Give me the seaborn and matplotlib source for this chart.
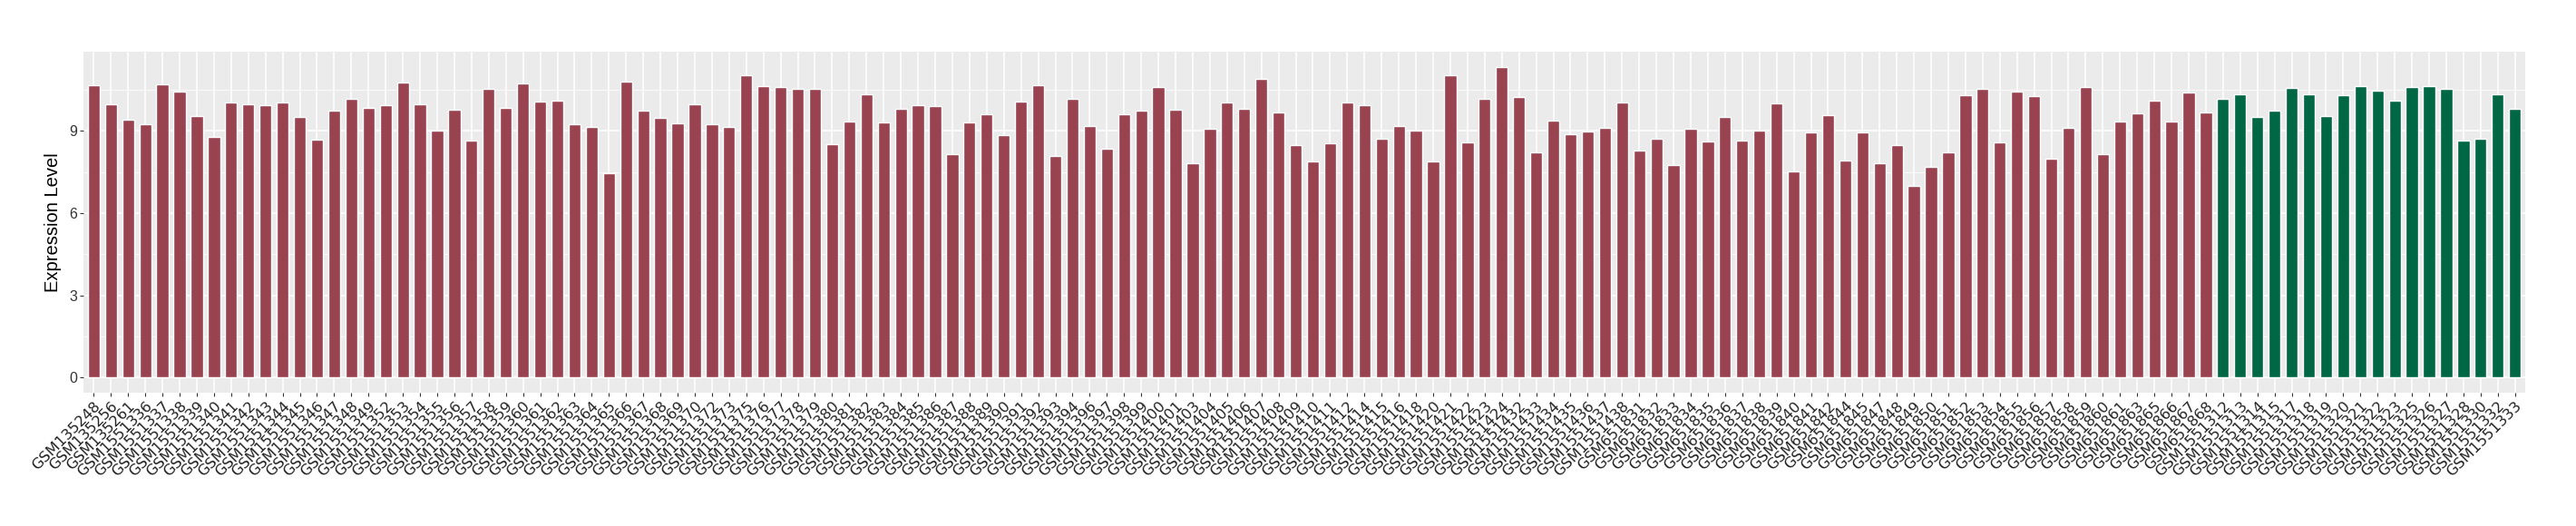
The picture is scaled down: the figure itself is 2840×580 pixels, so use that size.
import matplotlib
matplotlib.use("agg")
import matplotlib.pyplot as plt
from matplotlib.ticker import MultipleLocator
import seaborn as sns
import pandas as pd

# sample ids in plotting order
tumor_ids = (
    ["GSM135248", "GSM135256", "GSM135261"]
    + ["GSM15513%d" % n for n in [36, 37, 38, 39, 40, 41, 42, 43, 44, 45, 46, 47, 48, 49,
                                  52, 53, 54, 55, 56, 57, 58, 59, 60, 61, 62, 63, 64, 65,
                                  66, 67, 68, 69, 70, 72, 73, 75, 76, 77, 78, 79, 80, 81,
                                  82, 83, 84, 85, 86, 87, 88, 89, 90, 91, 92, 93, 94, 96,
                                  97, 98, 99]]
    + ["GSM15514%02d" % n for n in [0, 1, 3, 4, 5, 6, 7, 8, 9, 10, 11, 12, 14, 15, 16, 18,
                                    20, 21, 22, 23, 24, 32, 33, 34, 35, 36, 37, 38]]
    + ["GSM6518%d" % n for n in [31, 32, 33, 34, 35, 36, 37, 38, 39, 40, 41, 42, 44, 45,
                                 47, 48, 49, 50, 51, 52, 53, 54, 55, 56, 57, 58, 59, 60,
                                 61, 63, 65, 66, 67, 68]]
)
normal_ids = ["GSM15513%02d" % n for n in [12, 13, 14, 15, 17, 18, 19, 20, 21, 22, 23, 25,
                                            26, 27, 28, 30, 32, 33]]

tumor_values = [
    10.67, 9.97, 9.41, 9.24, 10.70, 10.43, 9.54, 8.78, 10.04, 9.97,
    9.94, 10.04, 9.51, 8.68, 9.74, 10.17, 9.84, 9.94, 10.76, 9.97,
    9.01, 9.77, 8.65, 10.53, 9.84, 10.73, 10.07, 10.10, 9.24, 9.14,
    7.46, 10.80, 9.74, 9.47, 9.28, 9.97, 9.24, 9.14, 11.03, 10.63,
    10.60, 10.53, 10.53, 8.51, 9.34, 10.33, 9.31, 9.81, 9.94, 9.90,
    8.15, 9.31, 9.61, 8.85, 10.07, 10.67, 8.08, 10.17, 9.18, 8.35,
    9.61, 9.74, 10.60, 9.77, 7.82, 9.08, 10.04, 9.81, 10.90, 9.67,
    8.48, 7.89, 8.55, 10.04, 9.94, 8.71, 9.18, 9.01, 7.89, 11.03,
    8.58, 10.17, 11.33, 10.24, 8.21, 9.37, 8.88, 8.98, 9.11, 10.04,
    8.28, 8.71, 7.75, 9.08, 8.61, 9.51, 8.65, 9.01, 10.00, 7.52,
    8.94, 9.57, 7.92, 8.94, 7.82, 8.48, 6.99, 7.69, 8.21, 10.30,
    10.53, 8.58, 10.43, 10.27, 7.98, 9.11, 10.60, 8.15, 9.34, 9.64,
    10.10, 9.34, 10.40, 9.67,
]
normal_values = [
    10.17, 10.33, 9.51, 9.74, 10.57, 10.33, 9.54, 10.30, 10.63, 10.47,
    10.10, 10.60, 10.63, 10.53, 8.65, 8.71, 10.33, 9.81,
]

df = pd.DataFrame({
    "sample": tumor_ids + normal_ids,
    "expr": tumor_values + normal_values,
    "group": ["Tumor"] * len(tumor_ids) + ["Normal"] * len(normal_ids),
})

sns.set_style("darkgrid")
plt.rcParams["font.family"] = ["Liberation Sans", "DejaVu Sans"]

fig, ax = plt.subplots(figsize=(28.4, 5.8), dpi=100)
fig.subplots_adjust(left=0.0324, right=0.9803, top=0.902, bottom=0.253)

sns.barplot(data=df, x="sample", y="expr", hue="group", order=df["sample"],
            palette={"Tumor": "#9A4350", "Normal": "#006745"},
            dodge=False, width=0.7, saturation=1, legend=False, ax=ax)

n = len(df)
ax.set_xlim(-0.6, n - 0.4)
ax.set_ylim(-0.566, 11.9)
ax.set_yticks([0, 3, 6, 9])
ax.yaxis.set_minor_locator(MultipleLocator(1.5))

ax.set_facecolor("#EBEBEB")
ax.set_axisbelow(True)
ax.grid(which="major", color="white", linewidth=1.1)
ax.grid(which="minor", axis="y", color="white", linewidth=0.55)
ax.tick_params(axis="y", which="minor", left=False)
for s in ax.spines.values():
    s.set_visible(False)

ax.tick_params(axis="both", which="major", bottom=True, left=True, length=2.75,
               width=0.8, color="#333333", pad=2)
ax.tick_params(axis="y", labelsize=11.5, labelcolor="#333333")
for lab in ax.get_xticklabels():
    lab.set_family("DejaVu Sans")
    lab.set_fontsize(11.8)
    lab.set_color("#222222")
    lab.set_rotation(45)
    lab.set_ha("right")
    lab.set_va("top")
    lab.set_rotation_mode("anchor")

ax.set_xlabel("")
ax.set_ylabel("Expression Level", fontsize=14.5, color="black", labelpad=6)

plt.savefig("out.png", dpi=100)
